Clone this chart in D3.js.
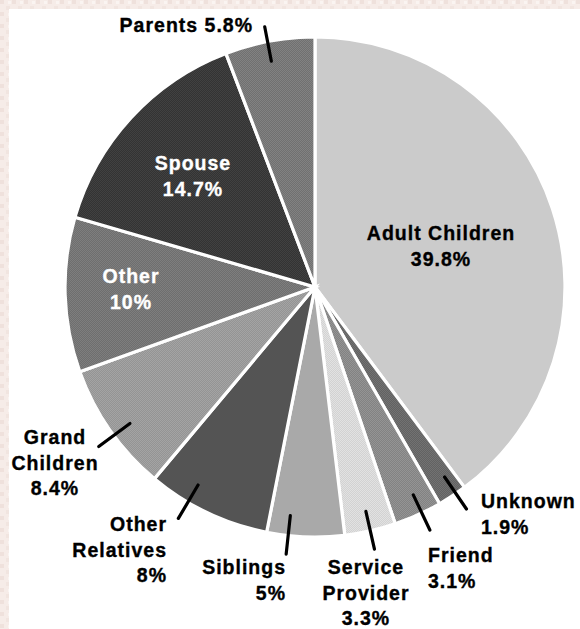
<!DOCTYPE html>
<html>
<head>
<meta charset="utf-8">
<script src="https://cdn.jsdelivr.net/npm/d3@7/dist/d3.min.js"></script>
<style>
  html, body { margin: 0; padding: 0; background: #ffffff; }
  svg { display: block; }
  text { font-family: "Liberation Sans", Arial, sans-serif; font-weight: bold; font-size: 19.5px; letter-spacing: 1px; }
</style>
</head>
<body>
<svg id="chart" width="580" height="629"></svg>
<script>
// Who provides care: share of caregivers by relationship
const categories = ["Adult Children", "Unknown", "Friend", "Service Provider", "Siblings",
                    "Other Relatives", "Grand Children", "Other", "Spouse", "Parents"];
const values = [39.8, 1.9, 3.1, 3.3, 5, 8, 8.4, 10, 14.7, 5.8];
const valueLabels = ["39.8%", "1.9%", "3.1%", "3.3%", "5%", "8%", "8.4%", "10%", "14.7%", "5.8%"];

// Slice fills: [base, dither tone] (same tone = solid)
const fills = {
  "Adult Children":  ["#cbcbcb", "#cbcbcb"],
  "Unknown":         ["#626262", "#727272"],
  "Friend":          ["#828282", "#949494"],
  "Service Provider":["#d2d2d2", "#e2e2e2"],
  "Siblings":        ["#a9a9a9", "#a9a9a9"],
  "Other Relatives": ["#545454", "#545454"],
  "Grand Children":  ["#949494", "#a4a4a4"],
  "Other":           ["#6e6e6e", "#7e7e7e"],
  "Spouse":          ["#333333", "#414141"],
  "Parents":         ["#707070", "#828282"]
};

// Label placement: inside labels sit in the slice, outside labels get a leader line
const labelLayout = {
  "Adult Children":  { inside: true,  x: 441, y: 240, anchor: "middle", color: "#000", lines: ["Adult Children"] },
  "Spouse":          { inside: true,  x: 193, y: 170, anchor: "middle", color: "#fff", lines: ["Spouse"] },
  "Other":           { inside: true,  x: 131, y: 283, anchor: "middle", color: "#fff", lines: ["Other"] },
  "Unknown":         { x: 481, y: 508, anchor: "start",  lines: ["Unknown"], nudge: -1 },
  "Friend":          { x: 428, y: 562, anchor: "start",  lines: ["Friend"], nudge: -1 },
  "Service Provider":{ x: 366, y: 574, anchor: "middle", lines: ["Service", "Provider"], nudge: 0 },
  "Siblings":        { x: 286, y: 574, anchor: "end",    lines: ["Siblings"], nudge: 4 },
  "Other Relatives": { x: 167, y: 531, anchor: "end",    lines: ["Other", "Relatives"], nudge: 5 },
  "Grand Children":  { x: 55,  y: 444, anchor: "middle", lines: ["Grand", "Children"], nudge: -1.5 },
  "Parents":         { x: 253, y: 32,  anchor: "end",    lines: ["Parents 5.8%"], single: true, nudge: -0.5, outer: 1.06 }
};

const width = 580, height = 629;
const cx = 315, cy = 287, radius = 250;
const lineGap = 25.5;

const svg = d3.select("#chart");
const defs = svg.append("defs");

// Light mottled frame along the top and left edges
const frame = defs.append("pattern").attr("id", "frame").attr("patternUnits", "userSpaceOnUse")
  .attr("width", 12).attr("height", 12);
frame.append("rect").attr("width", 12).attr("height", 12).attr("fill", "#f6ece8");
frame.append("rect").attr("x", 0).attr("y", 0).attr("width", 4).attr("height", 4).attr("fill", "#efe1dc");
frame.append("rect").attr("x", 6).attr("y", 6).attr("width", 4).attr("height", 4).attr("fill", "#f1e5e0");
frame.append("rect").attr("x", 8).attr("y", 1).attr("width", 3).attr("height", 3).attr("fill", "#faf4f1");
svg.append("rect").attr("width", width).attr("height", height).attr("fill", "#fff");
svg.append("rect").attr("x", 0).attr("y", 0).attr("width", width).attr("height", 9).attr("fill", "url(#frame)");
svg.append("rect").attr("x", 0).attr("y", 0).attr("width", 9).attr("height", height).attr("fill", "url(#frame)");

// Dither patterns for the slice fills
categories.forEach((c, i) => {
  const [a, b] = fills[c];
  const p = defs.append("pattern").attr("id", "fill" + i).attr("patternUnits", "userSpaceOnUse")
    .attr("width", 2).attr("height", 2);
  p.append("rect").attr("width", 2).attr("height", 2).attr("fill", a);
  p.append("rect").attr("width", 1).attr("height", 1).attr("fill", b);
  p.append("rect").attr("x", 1).attr("y", 1).attr("width", 1).attr("height", 1).attr("fill", b);
});

const pie = d3.pie().sort(null).value(d => d.value);
const data = categories.map((c, i) => ({ name: c, value: values[i], label: valueLabels[i], idx: i }));
const arcs = pie(data);

const arc = d3.arc().innerRadius(0).outerRadius(radius);
const g = svg.append("g").attr("transform", `translate(${cx},${cy})`);

g.selectAll("path.slice")
  .data(arcs)
  .join("path")
  .attr("class", "slice")
  .attr("d", arc)
  .attr("fill", d => `url(#fill${d.data.idx})`)
  .attr("stroke", "#fff")
  .attr("stroke-width", 3.2)
  .attr("stroke-linejoin", "miter");

// Leader lines for the outside labels
const polar = (angle, r) => [cx + r * Math.sin(angle), cy - r * Math.cos(angle)];
arcs.forEach(d => {
  const L = labelLayout[d.data.name];
  if (L.inside) return;
  const mid = (d.startAngle + d.endAngle) / 2 + (L.nudge || 0) * Math.PI / 180;
  const p0 = polar(mid, radius * 0.92);
  const p1 = polar(mid, radius * (L.outer || 1.075));
  svg.append("line")
    .attr("x1", p0[0]).attr("y1", p0[1])
    .attr("x2", p1[0]).attr("y2", p1[1])
    .attr("stroke", "#000").attr("stroke-width", 3.2)
    .attr("stroke-linecap", "round");
});

// Text labels
arcs.forEach(d => {
  const L = labelLayout[d.data.name];
  const lines = L.single ? L.lines : L.lines.concat([d.data.label]);
  const col = L.color || "#000";
  const t = svg.append("text")
    .attr("text-anchor", L.anchor)
    .attr("fill", col)
    .attr("stroke", col)
    .attr("stroke-width", 0.35);
  lines.forEach((s, k) => {
    t.append("tspan").attr("x", L.x).attr("y", L.y + k * lineGap).text(s);
  });
});
</script>
</body>
</html>
